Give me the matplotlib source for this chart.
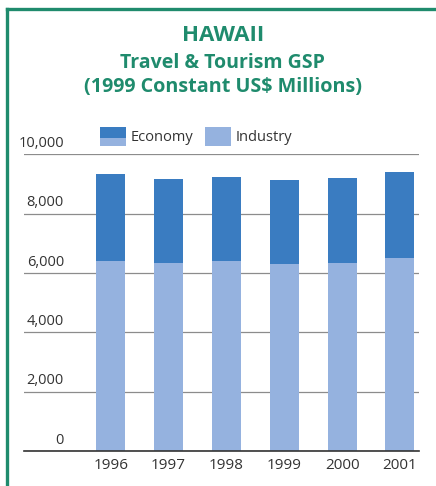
import numpy as np
import matplotlib
matplotlib.use("Agg")
import matplotlib.pyplot as plt
from matplotlib.patches import Rectangle
from matplotlib.lines import Line2D
from matplotlib.legend_handler import HandlerBase

years = ["1996", "1997", "1998", "1999", "2000", "2001"]
industry = [6410, 6350, 6420, 6310, 6350, 6500]
total = [9330, 9160, 9250, 9120, 9200, 9390]
economy = [t - i for t, i in zip(total, industry)]
yticks = [0, 2000, 4000, 6000, 8000, 10000]

dark_blue = "#3a7cc1"
light_blue = "#95b2df"
teal = "#1f8b6d"

plt.rcParams["font.family"] = ["Open Sans", "DejaVu Sans"]


class TwoToneHandler(HandlerBase):
    # legend key: dark top over light bottom
    def create_artists(self, legend, orig_handle, xdescent, ydescent,
                       width, height, fontsize, trans):
        lower = Rectangle((-xdescent, -ydescent), width, height * 0.42,
                          facecolor=light_blue, edgecolor="none", transform=trans)
        upper = Rectangle((-xdescent, -ydescent + height * 0.42), width, height * 0.58,
                          facecolor=dark_blue, edgecolor="none", transform=trans)
        return [lower, upper]


fig = plt.figure(figsize=(4.36, 4.86), dpi=100)
ax = fig.add_axes([0.055, 0.072, 0.906, 0.6105])

x = np.arange(len(years))
ax.bar(x, industry, width=0.5, color=light_blue, zorder=2)
ax.bar(x, economy, width=0.5, bottom=industry, color=dark_blue, zorder=2)

ax.set_xlim(-1.5, 5.33)
ax.set_ylim(0, 10000)
ax.set_yticks(yticks)
ax.set_yticklabels([])
ax.yaxis.grid(True, color="#8c8c8c", linewidth=0.9, zorder=0)
ax.tick_params(axis="y", length=0)
ax.set_xticks(x)
ax.set_xticklabels(years, fontsize=11, color="#333333")
ax.tick_params(axis="x", length=0, pad=5)

for side in ["top", "right", "left"]:
    ax.spines[side].set_visible(False)
ax.spines["bottom"].set_color("#333333")
ax.spines["bottom"].set_linewidth(1.2)

# value labels sit just above each gridline
for v in yticks:
    ax.annotate(f"{v:,}", xy=(0.101, v), xycoords=("axes fraction", "data"),
                xytext=(0, 2.5), textcoords="offset points",
                ha="right", va="bottom", fontsize=10.5, color="#333333",
                annotation_clip=False)

econ_key = Rectangle((0, 0), 1, 1)
ind_key = Rectangle((0, 0), 1, 1, facecolor=light_blue, edgecolor="none")
ax.legend([econ_key, ind_key], ["Economy", "Industry"],
          handler_map={econ_key: TwoToneHandler()},
          loc="center left", bbox_to_anchor=(0.192, 1.06), ncol=2,
          frameon=False, fontsize=10.5, borderpad=0, borderaxespad=0,
          handlelength=1.8, handleheight=1.55, handletextpad=0.3,
          columnspacing=0.8, labelcolor="#333333")

fig.text(0.511, 0.9156, "HAWAII", ha="center", va="baseline",
         fontsize=16, fontweight="bold", color=teal)
fig.text(0.511, 0.860, "Travel & Tourism GSP", ha="center", va="baseline",
         fontsize=14, fontweight="bold", color=teal)
fig.text(0.511, 0.8107, "(1999 Constant US$ Millions)", ha="center", va="baseline",
         fontsize=14.2, fontweight="bold", color=teal)

# frame lines along the top and left
fig.add_artist(Line2D([0.016, 1.0], [0.9815, 0.9815], color=teal, linewidth=2.4,
                      transform=fig.transFigure))
fig.add_artist(Line2D([0.016, 0.016], [0.0, 0.9815], color=teal, linewidth=2.4,
                      transform=fig.transFigure))

fig.savefig("out.png", dpi=100)
